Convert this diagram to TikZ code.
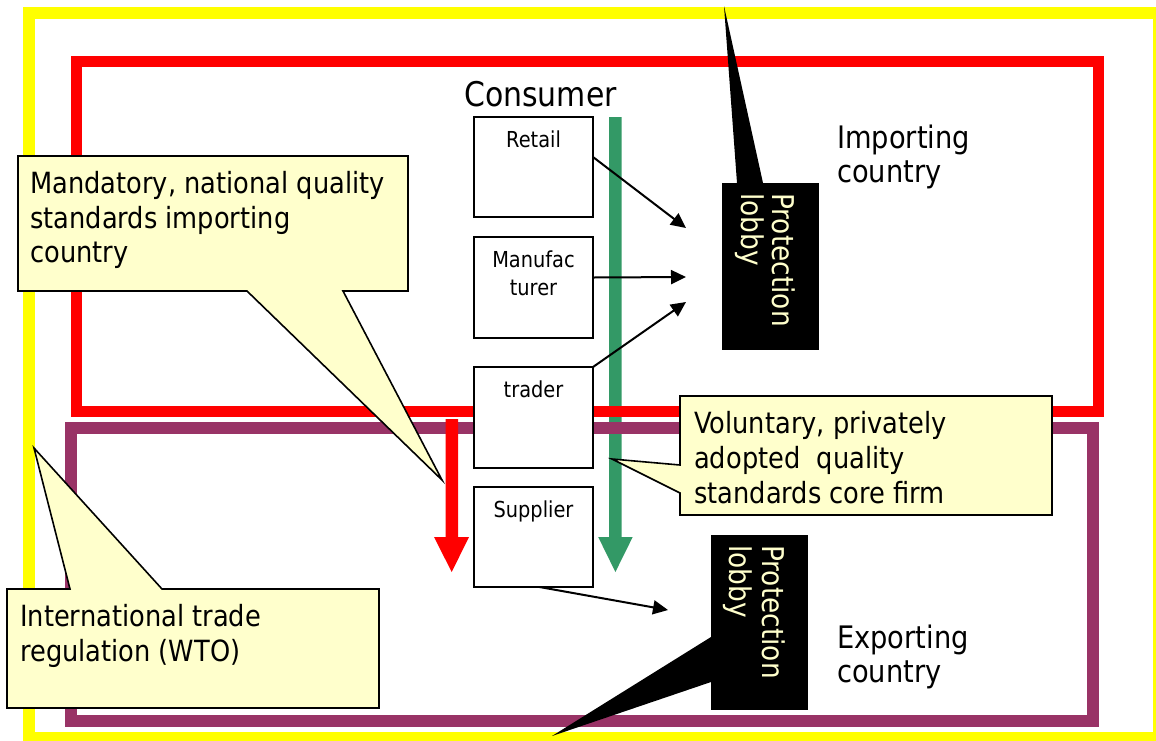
\documentclass[tikz,border=0pt]{standalone}
\usepackage{fontspec}
\setmainfont{DejaVu Sans}[FakeStretch=0.88]
\usetikzlibrary{arrows.meta}
\definecolor{ylw}{HTML}{FFFF00}
\definecolor{rd}{HTML}{FF0000}
\definecolor{purp}{HTML}{993366}
\definecolor{grn}{HTML}{339966}
\definecolor{note}{HTML}{FFFFCC}
\begin{document}
\begin{tikzpicture}[x=1pt,y=-1pt,
  chainbox/.style={draw=black, line width=2pt, fill=white, minimum width=119pt,
    minimum height=100pt, inner sep=0pt, outer sep=0pt, anchor=north west},
  boxtext/.style={font=\fontsize{22}{26}\selectfont, anchor=base, inner sep=0pt},
  notetext/.style={font=\fontsize{29.2}{34}\selectfont, anchor=base west, inner sep=0pt},
  regiontext/.style={font=\fontsize{31}{36}\selectfont, anchor=base west, inner sep=0pt},
  lobbybox/.style={fill=black, minimum width=97pt, inner sep=0pt, outer sep=0pt, anchor=north west},
  lobbytext/.style={font=\fontsize{30}{34}\selectfont, text=note, anchor=base west,
    inner sep=0pt, rotate=-90},
  flow/.style={line width=2pt, -{Triangle[length=15pt,width=14pt]}},
  callout/.style={draw=black, line width=1.6pt, fill=note, line join=miter},
]
\useasboundingbox (0,0) rectangle (1156,740);
\clip (0,0) rectangle (1156,740);

% green flow arrow (behind frames)
\fill[grn] (609,117) -- (621.5,117) -- (621.5,537) -- (632.7,537) -- (615.4,572)
  -- (598.2,537) -- (609,537) -- cycle;

% frames
\draw[ylw, line width=12pt] (29,13) rectangle (1159,738);
\draw[rd, line width=11pt] (76,61) rectangle (1098.5,411.5);
\draw[purp, line width=12pt] (71,427.5) rectangle (1093,721);

% red flow arrow
\fill[rd] (445.5,419) -- (458,419) -- (458,537) -- (469,537) -- (451.7,572)
  -- (434,537) -- (445.5,537) -- cycle;

% chain boxes
\node[chainbox] (retail) at (474,117) {};
\node[chainbox, minimum height=101pt] (manuf) at (474,237) {};
\node[chainbox, minimum height=101pt] (trader) at (474,367) {};
\node[chainbox] (supplier) at (474,487) {};
\node[boxtext] (retailt) at (533.5,147) {Retail};
\node[boxtext] (manuft1) at (533.5,267) {Manufac};
\node[boxtext] (manuft2) at (533.5,295) {turer};
\node[boxtext] (tradert) at (533.5,397) {trader};
\node[boxtext] (suppliert) at (533.5,517) {Supplier};

\node[font=\fontsize{34}{40}\selectfont, anchor=base west, inner sep=0pt] (consumer)
  at (464,106) {Consumer};

% arrows toward the lobbies
\coordinate (a1) at (686,228);
\coordinate (a2) at (686,277);
\coordinate (a3) at (686,302);
\coordinate (a4) at (668,610);
\draw[flow] ([yshift=10pt]retail.east) -- (a1);
\draw[flow] ([yshift=10pt]manuf.east) -- (a2);
\draw[flow] (trader.north east) -- (a3);
\draw[flow] ([xshift=6pt]supplier.south) -- (a4);

% protection lobbies
\node[lobbybox, minimum height=167pt] (lob1) at (722,183) {};
\coordinate (tip1) at (724,6);
\fill[black] ([xshift=15pt]lob1.north west) -- (tip1) -- ([xshift=41pt]lob1.north west) -- cycle;
\node[lobbytext] (lob1a) at (772,193) {Protection};
\node[lobbytext] (lob1b) at (741,193) {lobby};

\node[lobbybox, minimum height=175pt] (lob2) at (711,535) {};
\coordinate (tip2) at (552,736);
\fill[black] ([yshift=-102pt]lob2.north west) -- (tip2) -- ([yshift=-147pt]lob2.north west) -- cycle;
\node[lobbytext] (lob2a) at (762,545) {Protection};
\node[lobbytext] (lob2b) at (729,545) {lobby};

% region labels
\node[regiontext] (imp1) at (837,148) {Importing};
\node[regiontext] (imp2) at (837,182) {country};
\node[regiontext] (exp1) at (837,648) {Exporting};
\node[regiontext] (exp2) at (837,682) {country};

% callouts
\draw[callout] (18,156) -- (408,156) -- (408,291) -- (343,291) -- (442,480)
  -- (247,291) -- (18,291) -- cycle;
\node[notetext] (m1) at (30,193) {Mandatory, national quality};
\node[notetext] (m2) at (30,228) {standards importing};
\node[notetext] (m3) at (30,262) {country};

\draw[callout] (680,396) -- (1052,396) -- (1052,515) -- (680,515) -- (680,493)
  -- (612,459) -- (680,465) -- cycle;
\node[notetext] (v1) at (694,433) {Voluntary, privately};
\node[notetext] (v2) at (694,468) {adopted\ \ quality};
\node[notetext] (v3) at (694,503) {standards core firm};

\draw[callout] (7,589) -- (70,589) -- (34,448) -- (162,589) -- (379,589)
  -- (379,708) -- (7,708) -- cycle;
\node[notetext] (w1) at (20,626) {International trade};
\node[notetext] (w2) at (20,661) {regulation (WTO)};
\end{tikzpicture}
\end{document}
